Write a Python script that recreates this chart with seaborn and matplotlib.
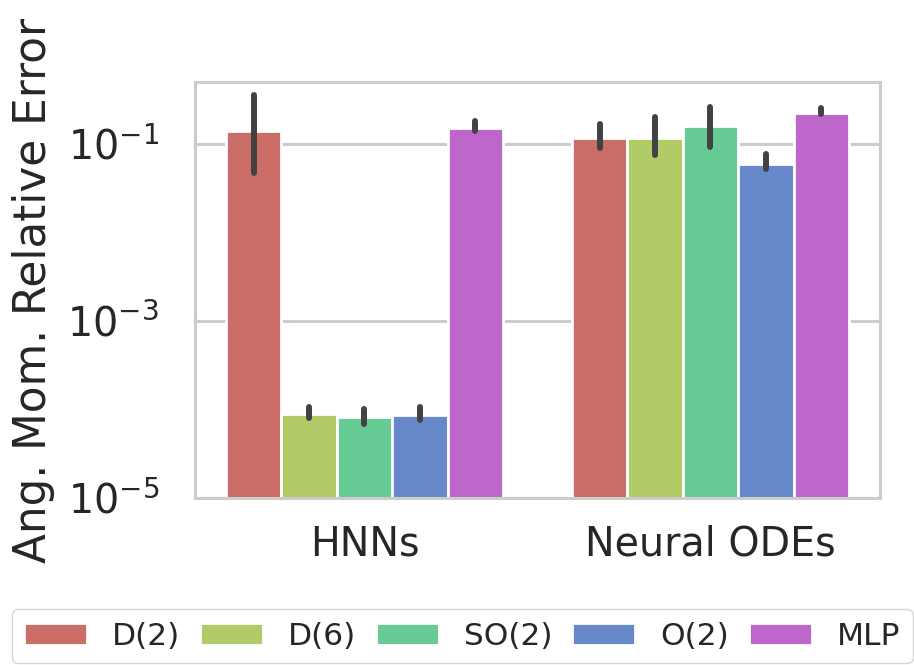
import matplotlib
matplotlib.use('Agg')

import matplotlib.pyplot as plt
import seaborn as sns
import pandas as pd

models = ['HNNs', 'Neural ODEs']
groups = ['D(2)', 'D(6)', 'SO(2)', 'O(2)', 'MLP']

# mean error and interval bounds, per model, in group order
hnn_mean = [0.14, 8.9e-5, 8.2e-5, 8.7e-5, 0.152]
hnn_low = [0.047, 8.0e-5, 6.9e-5, 7.6e-5, 0.141]
hnn_high = [0.36, 1.07e-4, 1.01e-4, 1.07e-4, 0.183]

node_mean = [0.117, 0.117, 0.160, 0.059, 0.224]
node_low = [0.091, 0.075, 0.092, 0.052, 0.218]
node_high = [0.169, 0.203, 0.262, 0.076, 0.255]

rows = []
for model, means, lows, highs in [('HNNs', hnn_mean, hnn_low, hnn_high),
                                  ('Neural ODEs', node_mean, node_low, node_high)]:
    for g, m, lo, hi in zip(groups, means, lows, highs):
        rows.append({'model': model, 'group': g, 'err': m, 'lo': lo, 'hi': hi})
df = pd.DataFrame(rows)

sns.set_theme(style='whitegrid', font_scale=2.5,
              rc={'axes.linewidth': 2.2, 'grid.linewidth': 2.2,
                  'axes.edgecolor': '.8', 'grid.color': '.8'})

fig = plt.figure(figsize=(9.14, 6.65), dpi=100)
ax = fig.add_axes([0.2133, 0.2511, 0.7495, 0.6256])

sns.barplot(data=df, x='model', y='err', hue='group', hue_order=groups,
            order=models, palette='hls', errorbar=None, ax=ax,
            edgecolor='white', linewidth=2.0)

# interval lines at the bar centres
for container, g in zip(ax.containers, groups):
    for bar, model in zip(container.patches, models):
        r = df[(df.model == model) & (df.group == g)].iloc[0]
        xc = bar.get_x() + bar.get_width() / 2
        ax.plot([xc, xc], [r.lo, r.hi], color='.26', linewidth=4.3,
                solid_capstyle='round', zorder=3)

ax.set_yscale('log')
ax.set_ylim(1e-5, 0.5)
ax.set_yticks([1e-5, 1e-3, 1e-1])
ax.minorticks_off()
ax.tick_params(axis='x', labelsize=28.5, pad=13)
ax.tick_params(axis='y', labelsize=28.5, pad=20)
ax.set_xlabel('')
ax.set_ylabel('Ang. Mom. Relative Error', fontsize=31.5, labelpad=9)

handles, labels = ax.get_legend_handles_labels()
ax.legend_.remove()
fig.legend(handles, labels, loc='lower center', bbox_to_anchor=(0.5055, -0.021),
           ncol=5, fontsize=22.5, handletextpad=0.8, columnspacing=0.65,
           frameon=True, edgecolor='.8')

plt.savefig('out.png', dpi=100)
